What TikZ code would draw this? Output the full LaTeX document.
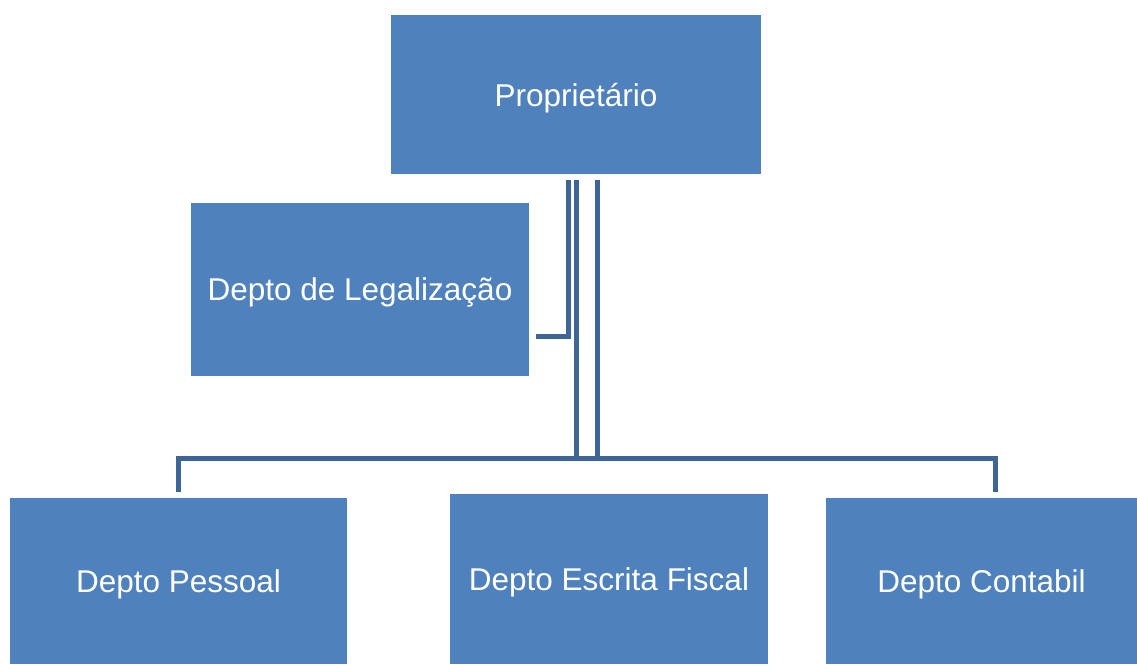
\documentclass[tikz,border=0pt]{standalone}
\usepackage{fontspec}
\setmainfont{Liberation Sans}
\definecolor{boxblue}{HTML}{4F81BD}
\definecolor{lineblue}{HTML}{3E6596}
\begin{document}
\begin{tikzpicture}[x=1pt,y=-1pt,
  dept/.style={rectangle,fill=boxblue,text=white,inner sep=0pt,text depth=0pt,font=\fontsize{31.5}{38}\selectfont},
  conn/.style={draw=lineblue,line width=5pt}]
\useasboundingbox (0,0) rectangle (1137,664);
\node (prop) [dept,minimum width=370pt,minimum height=159pt] at (576,94.5) {Proprietário};
\node (legal) [dept,minimum width=338pt,minimum height=173pt] at (360,289.5) {Depto de Legalização};
\node (pessoal) [dept,minimum width=337pt,minimum height=166pt] at (178.5,581) {Depto Pessoal};
\node (fiscal) [dept,minimum width=318pt,minimum height=170pt] at (609,579) {Depto Escrita Fiscal};
\node (contabil) [dept,minimum width=311pt,minimum height=166pt] at (981.5,581) {Depto Contabil};

\draw [conn] ([xshift=-8pt,yshift=-6pt]prop.south) |- ([xshift=7pt,yshift=-46.5pt]legal.east);
\draw [conn] ([yshift=6pt]pessoal.north) -- ++(0,-33) coordinate (bus) -| ([xshift=13.5pt,yshift=6pt]contabil.north);
\draw [conn] ([yshift=-6pt]prop.south) -- (prop.south |- bus);
\draw [conn] ([xshift=21pt,yshift=-6pt]prop.south) -- ([xshift=21pt]prop.south |- bus);
\end{tikzpicture}
\end{document}
